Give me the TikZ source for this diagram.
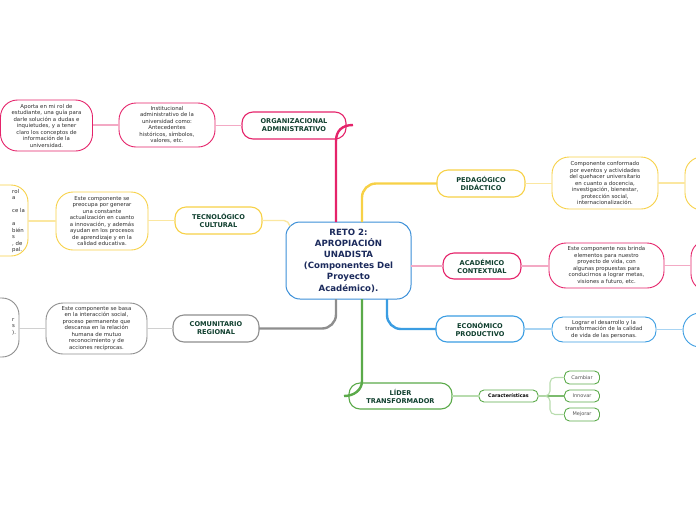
\documentclass[tikz,border=0pt]{standalone}
\usepackage{fontspec}
\setmainfont{DejaVu Sans}
\definecolor{pk}{HTML}{E5236A}
\definecolor{pkl}{HTML}{F3A9C4}
\definecolor{yl}{HTML}{F7D147}
\definecolor{yll}{HTML}{FBE7A0}
\definecolor{gy}{HTML}{8E8E8E}
\definecolor{gyl}{HTML}{D0D0D0}
\definecolor{bl}{HTML}{3B9DE2}
\definecolor{bll}{HTML}{A8D4F3}
\definecolor{gr}{HTML}{5BAA4A}
\definecolor{grl}{HTML}{B8DCAE}
\definecolor{tt}{HTML}{0F3F2E}
\definecolor{dt}{HTML}{2E2E2E}
\definecolor{lt}{HTML}{555555}
\definecolor{ct}{HTML}{1B2A5C}
\definecolor{cb}{HTML}{3B8FD8}
\begin{document}
\begin{tikzpicture}[x=1pt,y=-1pt,
  base/.style={draw, fill=white, align=center, inner sep=1pt, outer sep=0pt},
  centre/.style={base, draw=cb, line width=1pt, rounded corners=14pt, minimum width=125pt, minimum height=77pt, text=ct, font=\fontsize{8.6}{11.2}\selectfont\bfseries},
  title/.style={base, line width=1.1pt, rounded corners=11pt, text=tt, font=\fontsize{6.6}{8}\selectfont\bfseries},
  desc/.style={base, line width=0.9pt, rounded corners=17pt, text=dt, font=\fontsize{5.4}{6.5}\selectfont},
  small/.style={base, line width=0.9pt, rounded corners=5pt, text=dt, font=\fontsize{5}{6}\selectfont},
  frag/.style={inner sep=0pt, align=left, text=dt, font=\fontsize{5.4}{6.5}\selectfont},
  mainline/.style={line width=2.4pt},
  subline/.style={line width=1.4pt}]
\useasboundingbox (0,0) rectangle (696,520);
\clip (0,0) rectangle (696,520);
% centre
\node[centre] (C) at (348.5,260.5) {RETO 2:\\APROPIACIÓN\\UNADISTA\\(Componentes Del\\Proyecto\\Académico).};
% left top branch
\node[title, draw=pk, minimum width=104pt, minimum height=27pt] (org) at (294,125.5) {ORGANIZACIONAL\\ADMINISTRATIVO};
\node[desc, draw=pk, minimum width=96pt, minimum height=44pt] (inst) at (167,125) {Institucional\\administrativo de la\\universidad como:\\Antecedentes\\históricos, símbolos,\\valores, etc.};
\node[desc, draw=pk, minimum width=92pt, minimum height=51pt] (aporta) at (46.5,125.5) {Aporta en mi rol de\\estudiante, una guía para\\darle solución a dudas e\\inquietudes, y a tener\\claro los conceptos de\\información de la\\universidad.};
% tecnologico
\node[title, draw=yl, minimum width=87pt, minimum height=27pt] (tec) at (218.5,220.5) {TECNOLÓGICO\\CULTURAL};
\node[desc, draw=yl, minimum width=92pt, minimum height=58pt] (tecdesc) at (102,221) {Este componente se\\preocupa por generar\\una constante\\actualización en cuanto\\a innovación, y además\\ayudan en los procesos\\de aprendizaje y en la\\calidad educativa.};
\node[desc, draw=yl, minimum width=88pt, minimum height=71pt] (tecleft) at (-16,220.5) {};
\node[frag, anchor=north west] (tecfrag) at (12,189) {rol\\a\\\mbox{}\\ce la\\\mbox{}\\a\\bién\\s\\, de\\pal.};
% comunitario
\node[title, draw=gy, minimum width=86pt, minimum height=27pt] (com) at (216,328.5) {COMUNITARIO\\REGIONAL};
\node[desc, draw=gy, minimum width=101pt, minimum height=51pt] (comdesc) at (96.5,328.5) {Este componente se basa\\en la interacción social,\\proceso permanente que\\descansa en la relación\\humana de mutuo\\reconocimiento y de\\acciones recíprocas.};
\node[desc, draw=gy, minimum width=89pt, minimum height=59pt] (comleft) at (-25.5,327.5) {};
\node[frag, anchor=north west] (comfrag) at (12,318) {r\\s\\).};
% pedagogico
\node[title, draw=yl, minimum width=88pt, minimum height=27pt] (ped) at (481,183.5) {PEDAGÓGICO\\DIDÁCTICO};
\node[desc, draw=yl, minimum width=106pt, minimum height=52pt] (peddesc) at (605,183) {Componente conformado\\por eventos y actividades\\del quehacer universitario\\en cuanto a docencia,\\investigación, bienestar,\\protección social,\\internacionalización.};
\node[desc, draw=yl, minimum width=90pt, minimum height=53pt] (pedright) at (730,183.5) {};
% academico
\node[title, draw=pk, minimum width=78pt, minimum height=26pt] (aca) at (482,266) {ACADÉMICO\\CONTEXTUAL};
\node[desc, draw=pk, minimum width=115pt, minimum height=45pt] (acadesc) at (606.5,265.5) {Este componente nos brinda\\elementos para nuestro\\proyecto de vida, con\\algunas propuestas para\\conducirnos a lograr metas,\\visiones a futuro, etc.};
\node[desc, draw=pk, minimum width=90pt, minimum height=51pt] (acaright) at (736,265.5) {};
% economico
\node[title, draw=bl, minimum width=88pt, minimum height=26pt] (eco) at (480,329) {ECONÓMICO\\PRODUCTIVO};
\node[desc, draw=bl, rounded corners=11pt, minimum width=104pt, minimum height=25pt] (ecodesc) at (604,329.5) {Lograr el desarrollo y la\\transformación de la calidad\\de vida de las personas.};
\node[desc, draw=bl, minimum width=90pt, minimum height=34pt] (ecoright) at (728,330) {};
% lider
\node[title, draw=gr, minimum width=103pt, minimum height=26pt] (lider) at (400.5,396) {LÍDER\\TRANSFORMADOR};
\node[small, draw=gr, minimum width=59pt, minimum height=12pt, font=\fontsize{4.8}{6}\selectfont\bfseries, text=black] (car) at (508.5,396) {Características};
\node[small, draw=gr, minimum width=35pt, minimum height=13pt, text=lt] (cambiar) at (582,377.5) {Cambiar};
\node[small, draw=gr, minimum width=35pt, minimum height=12pt, text=lt] (innovar) at (582,396) {Innovar};
\node[small, draw=gr, minimum width=35pt, minimum height=13pt, text=lt] (mejorar) at (582,414.5) {Mejorar};
% sub connectors
\draw[subline, pkl] (org.west) -- (inst.east |- org.west);
\draw[subline, pkl] (inst.west) -- (aporta.east |- inst.west);
\draw[subline, yll] (tec.west) -- (tecdesc.east |- tec.west);
\draw[subline, yll] (tecdesc.west) -- (tecleft.east |- tecdesc.west);
\draw[subline, gyl] (com.west) -- (comdesc.east |- com.west);
\draw[subline, gyl] (comdesc.west) -- (comleft.east |- comdesc.west);
\draw[subline, yll] (ped.east) -- (peddesc.west |- ped.east);
\draw[subline, yll] (peddesc.east) -- (pedright.west |- peddesc.east);
\draw[subline, pkl] (aca.east) -- (acadesc.west |- aca.east);
\draw[subline, pkl] (acadesc.east) -- (acaright.west |- acadesc.east);
\draw[subline, bll] (eco.east) -- (ecodesc.west |- eco.east);
\draw[subline, bll] (ecodesc.east) -- (ecoright.west |- ecodesc.east);
\draw[subline, grl] (lider.east) -- (car.west);
\draw[line width=1.1pt, gr!80] (car.east) -- (innovar.west);
\draw[line width=1.1pt, grl, rounded corners=5pt] (car.east) -- ++(12,0) |- (cambiar.west);
\draw[line width=1.1pt, grl, rounded corners=5pt] (car.east) -- ++(12,0) |- (mejorar.west);
% main connectors
\coordinate (orgend) at (353,125);
\coordinate (liderend) at (344,396);
\coordinate (tecend) at (290,226);
\draw[mainline, pk] ([xshift=-12.5pt]C.north) -- ++(0,-81) .. controls ++(0,-10) and (342,125) .. (orgend);
\draw[mainline, yl, rounded corners=14pt] ([xshift=13.5pt]C.north) |- (ped.west);
\draw[subline, yll] (tec.east) -- (284,220.5) .. controls (287,220.5) and (289,223) .. (tecend);
\draw[subline, pkl] (C.east |- aca.west) -- (aca.west);
\draw[mainline, gy, rounded corners=14pt] ([xshift=-12.5pt]C.south) |- (com.east);
\draw[mainline, bl, rounded corners=14pt] ([xshift=38.5pt]C.south) |- (eco.west);
\draw[mainline, gr] ([xshift=13.5pt]C.south) -- ++(0,82) .. controls ++(0,9) and (354,396) .. (liderend);
\end{tikzpicture}
\end{document}
